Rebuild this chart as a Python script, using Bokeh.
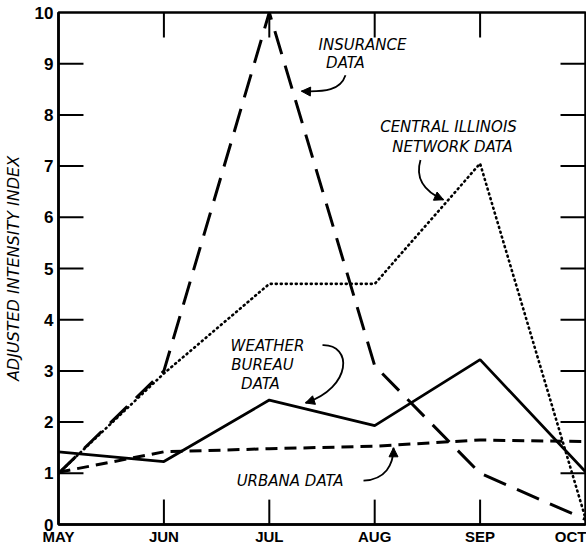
from bokeh.plotting import figure
from bokeh.models import Range1d, FixedTicker, Arrow, NormalHead, Label
from bokeh.embed import file_html
from bokeh.resources import INLINE

months = ["MAY", "JUN", "JUL", "AUG", "SEP", "OCT"]
x_idx = [0, 1, 2, 3, 4, 5]
insurance = [1.0, 3.0, 10.0, 3.1, 1.0, 0.1]
central_illinois = [1.0, 2.95, 4.7, 4.7, 7.05, 0.12]
weather_bureau = [1.42, 1.23, 2.43, 1.93, 3.22, 1.03]
urbana = [1.02, 1.42, 1.48, 1.53, 1.65, 1.62]
y_ticks = list(range(0, 11))

FONT = "Liberation Sans"
AFONT = "DejaVu Sans"

p = figure(width=586, height=547, output_backend="svg", toolbar_location=None,
           x_range=Range1d(0, 5), y_range=Range1d(0, 10),
           min_border_left=58, min_border_right=1, min_border_top=12, min_border_bottom=21)
p.grid.grid_line_color = None
p.outline_line_color = "black"
p.outline_line_width = 2.5

xa = p.xaxis[0]
xa.ticker = FixedTicker(ticks=x_idx)
xa.major_label_overrides = {i: m for i, m in zip(x_idx, months)}
xa.major_tick_in = 0
xa.major_tick_out = 0
xa.minor_tick_line_color = None
xa.axis_line_width = 2.5
xa.major_label_text_font = FONT
xa.major_label_text_font_style = "bold"
xa.major_label_text_font_size = "15px"
xa.major_label_standoff = 3
xa.major_label_text_color = "black"

ya = p.yaxis[0]
ya.ticker = FixedTicker(ticks=y_ticks)
ya.major_tick_in = 0
ya.major_tick_out = 0
ya.minor_tick_line_color = None
ya.axis_line_width = 2.5
ya.major_label_text_font = FONT
ya.major_label_text_font_style = "bold"
ya.major_label_text_font_size = "17px"
ya.major_label_standoff = 5
ya.major_label_text_color = "black"
ya.axis_label = "ADJUSTED INTENSITY INDEX"
ya.axis_label_text_font = AFONT
ya.axis_label_text_font_style = "italic"
ya.axis_label_text_font_size = "16px"
ya.axis_label_standoff = 9
ya.axis_label_text_color = "black"

# inward tick marks drawn as thin filled bars (25 px long, ~2 px thick)
TX = 0.237
TY = 0.486
HY = 0.02
HX = 0.0095
inner_y = y_ticks[1:-1]
inner_x = x_idx[1:-1]
p.quad(left=[0.0] * len(inner_y), right=[TX] * len(inner_y),
       bottom=[v - HY for v in inner_y], top=[v + HY for v in inner_y],
       fill_color="black", line_color=None)
p.quad(left=[5.0 - TX] * len(inner_y), right=[5.0] * len(inner_y),
       bottom=[v - HY for v in inner_y], top=[v + HY for v in inner_y],
       fill_color="black", line_color=None)
p.quad(left=[v - HX for v in inner_x], right=[v + HX for v in inner_x],
       bottom=[0.0] * len(inner_x), top=[TY] * len(inner_x),
       fill_color="black", line_color=None)
p.quad(left=[v - HX for v in inner_x], right=[v + HX for v in inner_x],
       bottom=[10.0 - TY] * len(inner_x), top=[10.0] * len(inner_x),
       fill_color="black", line_color=None)

p.line(x_idx, insurance, line_color="black", line_width=3, line_dash="24 12")
p.line(x_idx, central_illinois, line_color="black", line_width=2.6, line_dash="1 4", line_cap="round")
p.line(x_idx, weather_bureau, line_color="black", line_width=2.8)
p.line(x_idx, urbana, line_color="black", line_width=3, line_dash="12 7")

def px2d(px, py):
    return (px - 58) / 105.4, (526 - py) / 51.4

def curved_arrow(pts):
    (x0, y0), (x1, y1), (x2, y2), (x3, y3) = [px2d(*q) for q in pts]
    p.bezier(x0=[x0], y0=[y0], cx0=[x1], cy0=[y1], cx1=[x2], cy1=[y2], x1=[x3], y1=[y3],
             line_color="black", line_width=1.8)
    sx = x3 - 0.05 * (x3 - x2)
    sy = y3 - 0.05 * (y3 - y2)
    p.add_layout(Arrow(end=NormalHead(size=9, fill_color="black", line_color="black"),
                       x_start=sx, y_start=sy, x_end=x3, y_end=y3, line_width=1.5,
                       line_color="black"))

def label(text, px, py):
    x, y = px2d(px, py)
    p.add_layout(Label(x=x, y=y, text=text, text_align="center", text_baseline="middle",
                       text_font=AFONT, text_font_style="italic", text_font_size="15px",
                       text_color="black"))

label("INSURANCE", 362, 45)
label("DATA", 345, 63)
curved_arrow([(345, 75), (340, 90), (325, 92), (301, 91)])

label("CENTRAL ILLINOIS", 448, 127)
label("NETWORK DATA", 452, 147)
curved_arrow([(420, 160), (414, 180), (425, 192), (443, 200)])

label("WEATHER", 267, 347)
label("BUREAU", 262, 366)
label("DATA", 260, 385)
curved_arrow([(322, 346), (352, 345), (352, 388), (305, 404)])

label("URBANA  DATA", 292, 482)
curved_arrow([(363, 482), (385, 481), (393, 466), (393, 449)])

open("out.html", "w").write(file_html(p, INLINE))
